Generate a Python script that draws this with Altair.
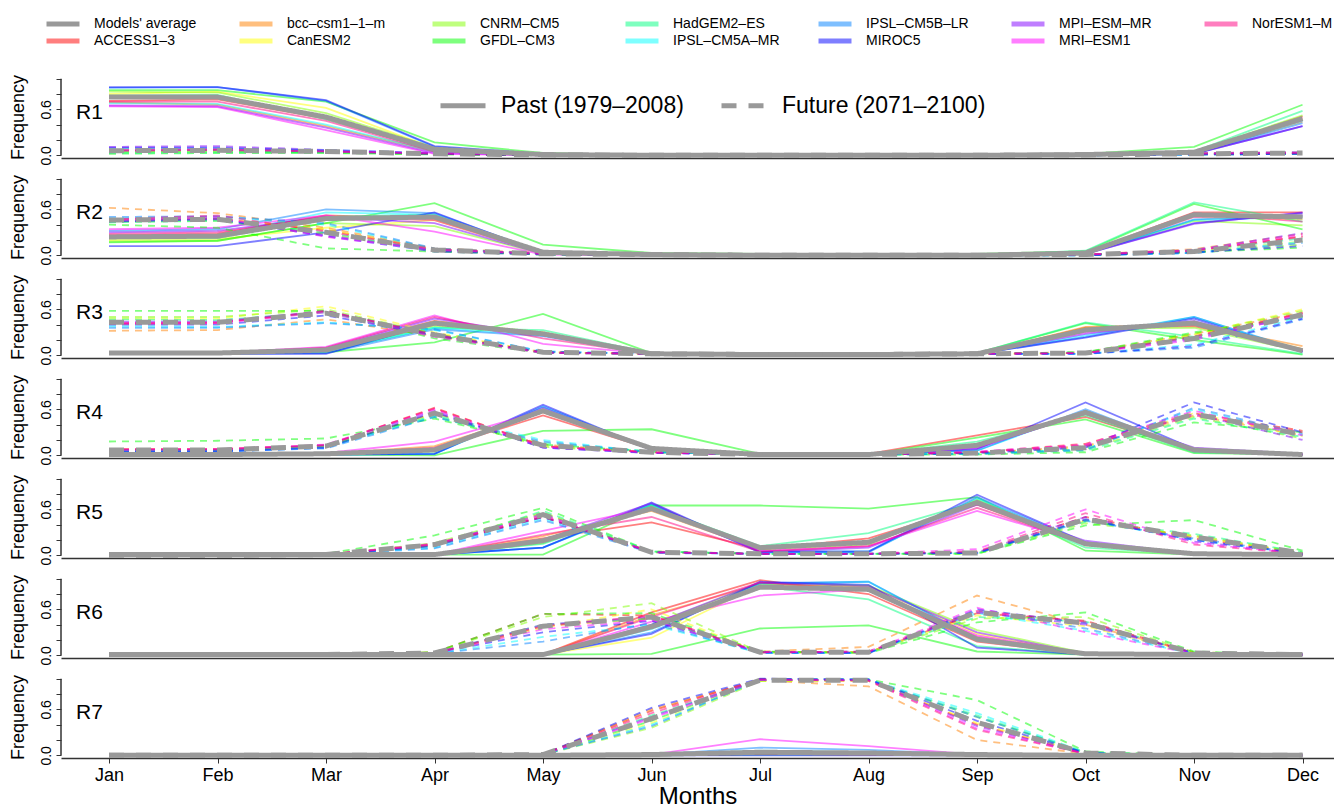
import altair as alt
import pandas as pd

MONTHS = ["Jan", "Feb", "Mar", "Apr", "May", "Jun", "Jul", "Aug", "Sep", "Oct", "Nov", "Dec"]
PERIODS = ["Past (1979\u20132008)", "Future (2071\u20132100)"]
REGIONS = ["R1", "R2", "R3", "R4", "R5", "R6", "R7"]

AVG = "Models' average"
MODELS = [AVG, "ACCESS1\u20133", "bcc\u2013csm1\u20131\u2013m", "CanESM2", "CNRM\u2013CM5", "GFDL\u2013CM3",
          "HadGEM2\u2013ES", "IPSL\u2013CM5A\u2013MR", "IPSL\u2013CM5B\u2013LR", "MIROC5", "MPI\u2013ESM\u2013MR",
          "MRI\u2013ESM1", "NorESM1\u2013M"]
COLORS = ["#999999", "#FF0000", "#FF8000", "#FFFF00", "#80FF00", "#00FF00",
          "#00FF80", "#00FFFF", "#0080FF", "#0000FF", "#8000FF", "#FF00FF", "#FF0080"]

# legend is filled column by column in the original (2 rows)
LEGEND_ORDER = [MODELS[i] for i in [0, 2, 4, 6, 8, 10, 12, 1, 3, 5, 7, 9, 11]]
LEGEND_COLORS = [COLORS[MODELS.index(m)] for m in LEGEND_ORDER]

# rows follow MODELS order: average first, then the 12 models
R1_PAST = [
    [0.76, 0.76, 0.50, 0.08, 0.01, 0, 0, 0, 0, 0.01, 0.04, 0.48],
    [0.71, 0.73, 0.48, 0.06, 0.01, 0, 0, 0, 0, 0.01, 0.04, 0.51],
    [0.69, 0.66, 0.38, 0.05, 0.01, 0, 0, 0, 0, 0.01, 0.03, 0.44],
    [0.80, 0.83, 0.62, 0.09, 0.01, 0, 0, 0, 0, 0.01, 0.04, 0.47],
    [0.83, 0.82, 0.55, 0.10, 0.01, 0, 0, 0, 0, 0.01, 0.05, 0.52],
    [0.85, 0.85, 0.70, 0.17, 0.03, 0, 0, 0, 0, 0.02, 0.11, 0.66],
    [0.78, 0.79, 0.47, 0.07, 0.01, 0, 0, 0, 0, 0.01, 0.05, 0.58],
    [0.68, 0.67, 0.40, 0.05, 0.00, 0, 0, 0, 0, 0.00, 0.02, 0.45],
    [0.88, 0.89, 0.71, 0.11, 0.01, 0, 0, 0, 0, 0.00, 0.02, 0.42],
    [0.89, 0.89, 0.72, 0.12, 0.02, 0, 0, 0, 0, 0.00, 0.02, 0.38],
    [0.65, 0.64, 0.36, 0.03, 0.00, 0, 0, 0, 0, 0.00, 0.02, 0.38],
    [0.64, 0.63, 0.33, 0.02, 0.00, 0, 0, 0, 0, 0.00, 0.03, 0.46],
    [0.70, 0.70, 0.45, 0.05, 0.01, 0, 0, 0, 0, 0.01, 0.04, 0.49],
]
R1_FUTURE = [
    [0.06, 0.065, 0.05, 0.02, 0.005, 0, 0, 0, 0, 0.005, 0.02, 0.03],
    [0.07, 0.08, 0.05, 0.02, 0.00, 0, 0, 0, 0, 0.00, 0.02, 0.03],
    [0.05, 0.06, 0.04, 0.02, 0.01, 0, 0, 0, 0, 0.01, 0.02, 0.02],
    [0.08, 0.08, 0.06, 0.02, 0.00, 0, 0, 0, 0, 0.00, 0.02, 0.03],
    [0.04, 0.05, 0.04, 0.02, 0.00, 0, 0, 0, 0, 0.00, 0.01, 0.02],
    [0.02, 0.03, 0.03, 0.01, 0.00, 0, 0, 0, 0, 0.01, 0.03, 0.04],
    [0.03, 0.04, 0.04, 0.02, 0.00, 0, 0, 0, 0, 0.00, 0.02, 0.03],
    [0.09, 0.09, 0.07, 0.03, 0.01, 0, 0, 0, 0, 0.00, 0.01, 0.02],
    [0.06, 0.07, 0.05, 0.02, 0.00, 0, 0, 0, 0, 0.00, 0.01, 0.02],
    [0.10, 0.10, 0.06, 0.02, 0.00, 0, 0, 0, 0, 0.00, 0.01, 0.02],
    [0.11, 0.12, 0.07, 0.03, 0.01, 0, 0, 0, 0, 0.00, 0.02, 0.04],
    [0.07, 0.08, 0.05, 0.03, 0.01, 0, 0, 0, 0, 0.01, 0.03, 0.04],
    [0.06, 0.07, 0.05, 0.02, 0.00, 0, 0, 0, 0, 0.00, 0.02, 0.03],
]
R2_PAST = [
    [0.24, 0.25, 0.48, 0.50, 0.04, 0.01, 0, 0, 0, 0.03, 0.53, 0.50],
    [0.26, 0.28, 0.52, 0.48, 0.03, 0.00, 0, 0, 0, 0.04, 0.56, 0.56],
    [0.24, 0.25, 0.46, 0.50, 0.03, 0.00, 0, 0, 0, 0.03, 0.52, 0.50],
    [0.20, 0.21, 0.36, 0.46, 0.03, 0.00, 0, 0, 0, 0.03, 0.50, 0.47],
    [0.18, 0.19, 0.42, 0.38, 0.02, 0.00, 0, 0, 0, 0.03, 0.45, 0.39],
    [0.17, 0.19, 0.42, 0.68, 0.14, 0.03, 0.02, 0.02, 0.02, 0.05, 0.67, 0.34],
    [0.22, 0.22, 0.50, 0.53, 0.04, 0.01, 0, 0, 0, 0.06, 0.69, 0.44],
    [0.25, 0.26, 0.56, 0.53, 0.03, 0.00, 0, 0, 0, 0.02, 0.46, 0.50],
    [0.32, 0.34, 0.60, 0.55, 0.04, 0.00, 0, 0, 0, 0.02, 0.47, 0.52],
    [0.12, 0.12, 0.30, 0.56, 0.03, 0.00, 0, 0, 0, 0.02, 0.42, 0.55],
    [0.30, 0.32, 0.50, 0.42, 0.02, 0.00, 0, 0, 0, 0.02, 0.41, 0.56],
    [0.34, 0.36, 0.52, 0.31, 0.01, 0.00, 0, 0, 0, 0.02, 0.50, 0.52],
    [0.28, 0.30, 0.50, 0.46, 0.03, 0.00, 0, 0, 0, 0.03, 0.55, 0.44],
]
R2_FUTURE = [
    [0.46, 0.47, 0.30, 0.07, 0.02, 0.01, 0, 0, 0, 0.01, 0.05, 0.20],
    [0.47, 0.48, 0.33, 0.08, 0.02, 0.00, 0, 0, 0, 0.01, 0.06, 0.25],
    [0.62, 0.55, 0.36, 0.09, 0.03, 0.01, 0, 0, 0, 0.01, 0.08, 0.28],
    [0.46, 0.48, 0.34, 0.07, 0.02, 0.00, 0, 0, 0, 0.01, 0.05, 0.18],
    [0.44, 0.45, 0.28, 0.06, 0.01, 0.00, 0, 0, 0, 0.00, 0.04, 0.14],
    [0.40, 0.36, 0.09, 0.05, 0.01, 0.00, 0, 0, 0, 0.01, 0.04, 0.10],
    [0.43, 0.45, 0.30, 0.06, 0.02, 0.00, 0, 0, 0, 0.01, 0.06, 0.22],
    [0.48, 0.50, 0.40, 0.08, 0.02, 0.00, 0, 0, 0, 0.00, 0.03, 0.18],
    [0.50, 0.51, 0.42, 0.09, 0.02, 0.00, 0, 0, 0, 0.00, 0.03, 0.16],
    [0.44, 0.47, 0.25, 0.05, 0.01, 0.00, 0, 0, 0, 0.00, 0.04, 0.12],
    [0.45, 0.48, 0.26, 0.07, 0.02, 0.00, 0, 0, 0, 0.01, 0.07, 0.29],
    [0.46, 0.50, 0.24, 0.07, 0.02, 0.00, 0, 0, 0, 0.01, 0.06, 0.27],
    [0.47, 0.52, 0.31, 0.08, 0.02, 0.00, 0, 0, 0, 0.01, 0.06, 0.24],
]
R3_PAST = [
    [0.03, 0.03, 0.07, 0.42, 0.28, 0.02, 0.01, 0.01, 0.02, 0.33, 0.42, 0.06],
    [0.03, 0.03, 0.08, 0.45, 0.27, 0.02, 0.01, 0.01, 0.02, 0.36, 0.38, 0.08],
    [0.03, 0.03, 0.06, 0.40, 0.30, 0.02, 0.01, 0.01, 0.02, 0.37, 0.40, 0.12],
    [0.03, 0.03, 0.07, 0.44, 0.30, 0.02, 0.01, 0.01, 0.02, 0.33, 0.44, 0.08],
    [0.03, 0.03, 0.06, 0.38, 0.28, 0.02, 0.01, 0.01, 0.02, 0.35, 0.36, 0.05],
    [0.03, 0.03, 0.04, 0.17, 0.54, 0.03, 0.01, 0.01, 0.03, 0.42, 0.20, 0.01],
    [0.03, 0.03, 0.05, 0.36, 0.33, 0.03, 0.01, 0.01, 0.03, 0.43, 0.24, 0.02],
    [0.03, 0.03, 0.05, 0.36, 0.26, 0.02, 0.01, 0.01, 0.02, 0.26, 0.50, 0.05],
    [0.02, 0.02, 0.03, 0.34, 0.25, 0.02, 0.01, 0.01, 0.02, 0.24, 0.50, 0.06],
    [0.02, 0.02, 0.02, 0.42, 0.27, 0.02, 0.01, 0.01, 0.02, 0.23, 0.48, 0.04],
    [0.03, 0.03, 0.09, 0.48, 0.26, 0.02, 0.01, 0.01, 0.02, 0.28, 0.45, 0.05],
    [0.03, 0.03, 0.11, 0.52, 0.15, 0.02, 0.01, 0.01, 0.02, 0.30, 0.42, 0.06],
    [0.03, 0.03, 0.10, 0.50, 0.22, 0.02, 0.01, 0.01, 0.02, 0.34, 0.40, 0.06],
]
R3_FUTURE = [
    [0.43, 0.43, 0.55, 0.27, 0.04, 0.02, 0.01, 0.01, 0.02, 0.03, 0.22, 0.53],
    [0.42, 0.43, 0.57, 0.28, 0.04, 0.02, 0.01, 0.01, 0.02, 0.03, 0.25, 0.55],
    [0.32, 0.33, 0.47, 0.25, 0.04, 0.02, 0.01, 0.01, 0.02, 0.04, 0.28, 0.56],
    [0.48, 0.48, 0.64, 0.30, 0.04, 0.02, 0.01, 0.01, 0.02, 0.03, 0.27, 0.60],
    [0.50, 0.50, 0.60, 0.28, 0.03, 0.02, 0.01, 0.01, 0.02, 0.03, 0.28, 0.58],
    [0.58, 0.58, 0.58, 0.22, 0.03, 0.02, 0.01, 0.01, 0.02, 0.04, 0.30, 0.50],
    [0.47, 0.46, 0.56, 0.25, 0.04, 0.02, 0.01, 0.01, 0.02, 0.04, 0.24, 0.52],
    [0.38, 0.37, 0.43, 0.33, 0.05, 0.02, 0.01, 0.01, 0.02, 0.02, 0.14, 0.50],
    [0.36, 0.36, 0.42, 0.34, 0.05, 0.02, 0.01, 0.01, 0.02, 0.02, 0.10, 0.47],
    [0.40, 0.40, 0.52, 0.26, 0.04, 0.02, 0.01, 0.01, 0.02, 0.02, 0.12, 0.48],
    [0.44, 0.44, 0.58, 0.27, 0.03, 0.02, 0.01, 0.01, 0.02, 0.03, 0.22, 0.52],
    [0.42, 0.42, 0.56, 0.24, 0.03, 0.02, 0.01, 0.01, 0.02, 0.03, 0.20, 0.54],
    [0.41, 0.42, 0.58, 0.26, 0.04, 0.02, 0.01, 0.01, 0.02, 0.03, 0.24, 0.55],
]
R4_PAST = [
    [0.01, 0.01, 0.02, 0.07, 0.58, 0.09, 0.01, 0.01, 0.13, 0.56, 0.07, 0.01],
    [0.01, 0.01, 0.02, 0.08, 0.52, 0.08, 0.01, 0.02, 0.26, 0.50, 0.06, 0.01],
    [0.01, 0.01, 0.02, 0.12, 0.56, 0.08, 0.01, 0.01, 0.15, 0.54, 0.07, 0.01],
    [0.01, 0.01, 0.02, 0.08, 0.60, 0.09, 0.01, 0.01, 0.12, 0.58, 0.08, 0.01],
    [0.01, 0.01, 0.02, 0.06, 0.58, 0.10, 0.01, 0.01, 0.14, 0.55, 0.07, 0.01],
    [0.00, 0.00, 0.01, 0.00, 0.32, 0.34, 0.02, 0.01, 0.23, 0.47, 0.03, 0.01],
    [0.01, 0.01, 0.02, 0.05, 0.60, 0.10, 0.01, 0.01, 0.18, 0.52, 0.04, 0.01],
    [0.01, 0.01, 0.01, 0.02, 0.63, 0.08, 0.01, 0.01, 0.06, 0.58, 0.06, 0.01],
    [0.01, 0.01, 0.01, 0.02, 0.64, 0.07, 0.01, 0.01, 0.06, 0.60, 0.06, 0.01],
    [0.01, 0.01, 0.01, 0.02, 0.66, 0.07, 0.01, 0.01, 0.08, 0.69, 0.08, 0.01],
    [0.01, 0.01, 0.02, 0.06, 0.62, 0.07, 0.01, 0.01, 0.09, 0.56, 0.10, 0.02],
    [0.01, 0.01, 0.03, 0.18, 0.58, 0.08, 0.01, 0.01, 0.10, 0.55, 0.08, 0.01],
    [0.01, 0.01, 0.02, 0.10, 0.57, 0.08, 0.01, 0.01, 0.12, 0.54, 0.07, 0.01],
]
R4_FUTURE = [
    [0.07, 0.07, 0.12, 0.55, 0.13, 0.04, 0.01, 0.01, 0.03, 0.10, 0.54, 0.27],
    [0.08, 0.08, 0.13, 0.62, 0.12, 0.04, 0.01, 0.01, 0.04, 0.15, 0.55, 0.32],
    [0.06, 0.06, 0.11, 0.55, 0.14, 0.04, 0.01, 0.01, 0.03, 0.12, 0.52, 0.26],
    [0.06, 0.07, 0.12, 0.54, 0.12, 0.04, 0.01, 0.01, 0.03, 0.10, 0.55, 0.25],
    [0.07, 0.07, 0.13, 0.52, 0.11, 0.04, 0.01, 0.01, 0.02, 0.08, 0.50, 0.22],
    [0.18, 0.19, 0.22, 0.48, 0.14, 0.05, 0.01, 0.01, 0.01, 0.04, 0.43, 0.30],
    [0.07, 0.07, 0.12, 0.50, 0.16, 0.05, 0.01, 0.01, 0.02, 0.06, 0.48, 0.24],
    [0.05, 0.05, 0.10, 0.52, 0.20, 0.04, 0.01, 0.01, 0.02, 0.08, 0.60, 0.26],
    [0.04, 0.05, 0.09, 0.50, 0.18, 0.04, 0.01, 0.01, 0.02, 0.07, 0.62, 0.28],
    [0.05, 0.05, 0.10, 0.56, 0.10, 0.03, 0.01, 0.01, 0.03, 0.10, 0.69, 0.30],
    [0.07, 0.07, 0.13, 0.58, 0.10, 0.03, 0.01, 0.01, 0.04, 0.12, 0.54, 0.20],
    [0.07, 0.08, 0.14, 0.60, 0.11, 0.04, 0.01, 0.01, 0.05, 0.14, 0.58, 0.26],
    [0.08, 0.08, 0.13, 0.61, 0.12, 0.04, 0.01, 0.01, 0.04, 0.13, 0.52, 0.30],
]
R5_PAST = [
    [0.01, 0.01, 0.01, 0.01, 0.19, 0.61, 0.10, 0.17, 0.69, 0.15, 0.02, 0.01],
    [0.01, 0.01, 0.01, 0.01, 0.22, 0.43, 0.08, 0.22, 0.66, 0.14, 0.02, 0.01],
    [0.01, 0.01, 0.01, 0.01, 0.25, 0.58, 0.08, 0.18, 0.70, 0.16, 0.02, 0.01],
    [0.01, 0.01, 0.01, 0.01, 0.18, 0.64, 0.08, 0.15, 0.72, 0.15, 0.02, 0.01],
    [0.01, 0.01, 0.01, 0.01, 0.16, 0.66, 0.08, 0.14, 0.73, 0.13, 0.02, 0.01],
    [0.01, 0.01, 0.01, 0.01, 0.01, 0.65, 0.65, 0.61, 0.76, 0.06, 0.01, 0.01],
    [0.01, 0.01, 0.01, 0.01, 0.15, 0.64, 0.12, 0.29, 0.70, 0.10, 0.02, 0.01],
    [0.01, 0.01, 0.01, 0.01, 0.10, 0.66, 0.04, 0.05, 0.74, 0.15, 0.02, 0.01],
    [0.01, 0.01, 0.01, 0.01, 0.10, 0.67, 0.04, 0.04, 0.76, 0.16, 0.02, 0.01],
    [0.01, 0.01, 0.01, 0.01, 0.10, 0.69, 0.05, 0.05, 0.79, 0.17, 0.02, 0.01],
    [0.01, 0.01, 0.01, 0.01, 0.20, 0.68, 0.04, 0.10, 0.66, 0.19, 0.02, 0.01],
    [0.01, 0.01, 0.01, 0.01, 0.32, 0.62, 0.06, 0.12, 0.58, 0.16, 0.02, 0.01],
    [0.01, 0.01, 0.01, 0.01, 0.27, 0.50, 0.05, 0.12, 0.62, 0.15, 0.02, 0.01],
]
R5_FUTURE = [
    [0.00, 0.00, 0.01, 0.14, 0.53, 0.04, 0.02, 0.02, 0.03, 0.47, 0.24, 0.03],
    [0.00, 0.00, 0.01, 0.15, 0.50, 0.04, 0.02, 0.02, 0.04, 0.50, 0.22, 0.03],
    [0.00, 0.00, 0.01, 0.13, 0.52, 0.05, 0.02, 0.02, 0.03, 0.46, 0.24, 0.03],
    [0.00, 0.00, 0.01, 0.14, 0.55, 0.04, 0.02, 0.02, 0.03, 0.45, 0.25, 0.03],
    [0.00, 0.00, 0.01, 0.16, 0.56, 0.04, 0.02, 0.02, 0.02, 0.42, 0.26, 0.04],
    [0.00, 0.00, 0.02, 0.26, 0.62, 0.05, 0.02, 0.02, 0.02, 0.39, 0.46, 0.06],
    [0.00, 0.00, 0.01, 0.12, 0.58, 0.05, 0.02, 0.02, 0.03, 0.44, 0.28, 0.04],
    [0.00, 0.00, 0.01, 0.10, 0.48, 0.04, 0.02, 0.02, 0.03, 0.46, 0.20, 0.02],
    [0.00, 0.00, 0.01, 0.09, 0.46, 0.03, 0.02, 0.02, 0.03, 0.45, 0.22, 0.02],
    [0.00, 0.00, 0.01, 0.12, 0.50, 0.04, 0.02, 0.02, 0.03, 0.47, 0.20, 0.02],
    [0.00, 0.00, 0.01, 0.14, 0.54, 0.04, 0.02, 0.02, 0.04, 0.50, 0.18, 0.02],
    [0.00, 0.00, 0.01, 0.15, 0.52, 0.04, 0.02, 0.02, 0.08, 0.60, 0.16, 0.02],
    [0.00, 0.00, 0.01, 0.14, 0.50, 0.04, 0.02, 0.02, 0.05, 0.55, 0.14, 0.02],
]
R6_PAST = [
    [0.01, 0.01, 0.01, 0.01, 0.01, 0.37, 0.89, 0.86, 0.21, 0.02, 0.01, 0.01],
    [0.01, 0.01, 0.01, 0.01, 0.01, 0.56, 0.98, 0.80, 0.18, 0.01, 0.01, 0.01],
    [0.01, 0.01, 0.01, 0.01, 0.01, 0.52, 0.93, 0.88, 0.22, 0.02, 0.01, 0.01],
    [0.01, 0.01, 0.01, 0.01, 0.01, 0.23, 0.92, 0.90, 0.28, 0.02, 0.01, 0.01],
    [0.01, 0.01, 0.01, 0.01, 0.01, 0.40, 0.94, 0.91, 0.33, 0.03, 0.01, 0.01],
    [0.01, 0.01, 0.01, 0.01, 0.01, 0.02, 0.35, 0.39, 0.05, 0.01, 0.01, 0.01],
    [0.01, 0.01, 0.01, 0.01, 0.01, 0.38, 0.90, 0.73, 0.12, 0.01, 0.01, 0.01],
    [0.01, 0.01, 0.01, 0.01, 0.01, 0.34, 0.93, 0.96, 0.20, 0.01, 0.01, 0.01],
    [0.01, 0.01, 0.01, 0.01, 0.01, 0.30, 0.94, 0.96, 0.22, 0.02, 0.01, 0.01],
    [0.01, 0.01, 0.01, 0.01, 0.01, 0.28, 0.96, 0.92, 0.10, 0.01, 0.01, 0.01],
    [0.01, 0.01, 0.01, 0.01, 0.01, 0.40, 0.95, 0.90, 0.30, 0.02, 0.01, 0.01],
    [0.01, 0.01, 0.01, 0.01, 0.01, 0.44, 0.78, 0.86, 0.26, 0.02, 0.01, 0.01],
    [0.01, 0.01, 0.01, 0.01, 0.01, 0.50, 0.95, 0.85, 0.24, 0.02, 0.01, 0.01],
]
R6_FUTURE = [
    [0.01, 0.01, 0.01, 0.03, 0.38, 0.50, 0.04, 0.04, 0.56, 0.42, 0.03, 0.01],
    [0.01, 0.01, 0.01, 0.04, 0.54, 0.52, 0.04, 0.04, 0.55, 0.45, 0.03, 0.01],
    [0.01, 0.01, 0.01, 0.03, 0.38, 0.48, 0.05, 0.11, 0.78, 0.40, 0.04, 0.01],
    [0.01, 0.01, 0.01, 0.03, 0.36, 0.60, 0.04, 0.04, 0.52, 0.38, 0.03, 0.01],
    [0.01, 0.01, 0.01, 0.04, 0.50, 0.68, 0.04, 0.04, 0.48, 0.50, 0.04, 0.01],
    [0.01, 0.01, 0.01, 0.04, 0.54, 0.55, 0.05, 0.03, 0.43, 0.56, 0.05, 0.01],
    [0.01, 0.01, 0.01, 0.03, 0.40, 0.48, 0.04, 0.05, 0.50, 0.44, 0.03, 0.01],
    [0.01, 0.01, 0.01, 0.02, 0.24, 0.40, 0.03, 0.03, 0.55, 0.32, 0.02, 0.01],
    [0.01, 0.01, 0.01, 0.02, 0.18, 0.42, 0.03, 0.03, 0.58, 0.35, 0.02, 0.01],
    [0.01, 0.01, 0.01, 0.03, 0.30, 0.45, 0.04, 0.03, 0.60, 0.42, 0.03, 0.01],
    [0.01, 0.01, 0.01, 0.03, 0.40, 0.50, 0.04, 0.04, 0.56, 0.40, 0.03, 0.01],
    [0.01, 0.01, 0.01, 0.03, 0.34, 0.46, 0.04, 0.05, 0.62, 0.30, 0.02, 0.01],
    [0.01, 0.01, 0.01, 0.03, 0.38, 0.52, 0.04, 0.05, 0.58, 0.44, 0.03, 0.01],
]
R7_PAST = [
    [0, 0, 0, 0, 0, 0.01, 0.04, 0.03, 0.01, 0, 0, 0],
    [0, 0, 0, 0, 0, 0.00, 0.02, 0.02, 0.00, 0, 0, 0],
    [0, 0, 0, 0, 0, 0.00, 0.02, 0.02, 0.00, 0, 0, 0],
    [0, 0, 0, 0, 0, 0.00, 0.02, 0.01, 0.00, 0, 0, 0],
    [0, 0, 0, 0, 0, 0.00, 0.03, 0.02, 0.00, 0, 0, 0],
    [0, 0, 0, 0, 0, 0.00, 0.01, 0.01, 0.00, 0, 0, 0],
    [0, 0, 0, 0, 0, 0.00, 0.02, 0.02, 0.00, 0, 0, 0],
    [0, 0, 0, 0, 0, 0.01, 0.06, 0.04, 0.01, 0, 0, 0],
    [0, 0, 0, 0, 0, 0.01, 0.10, 0.07, 0.01, 0, 0, 0],
    [0, 0, 0, 0, 0, 0.00, 0.00, 0.00, 0.00, 0, 0, 0],
    [0, 0, 0, 0, 0, 0.00, 0.03, 0.02, 0.00, 0, 0, 0],
    [0, 0, 0, 0, 0, 0.01, 0.21, 0.12, 0.01, 0, 0, 0],
    [0, 0, 0, 0, 0, 0.00, 0.02, 0.01, 0.00, 0, 0, 0],
]
R7_FUTURE = [
    [0, 0, 0, 0, 0.01, 0.48, 0.98, 0.98, 0.43, 0.03, 0, 0],
    [0, 0, 0, 0, 0.01, 0.58, 0.99, 0.98, 0.40, 0.02, 0, 0],
    [0, 0, 0, 0, 0.01, 0.60, 0.98, 0.90, 0.20, 0.02, 0, 0],
    [0, 0, 0, 0, 0.01, 0.42, 0.97, 0.97, 0.42, 0.03, 0, 0],
    [0, 0, 0, 0, 0.01, 0.36, 0.97, 0.98, 0.50, 0.04, 0, 0],
    [0, 0, 0, 0, 0.01, 0.45, 0.99, 0.99, 0.72, 0.05, 0, 0],
    [0, 0, 0, 0, 0.01, 0.52, 0.98, 0.98, 0.52, 0.03, 0, 0],
    [0, 0, 0, 0, 0.01, 0.40, 0.98, 0.99, 0.55, 0.04, 0, 0],
    [0, 0, 0, 0, 0.01, 0.38, 0.99, 0.99, 0.50, 0.03, 0, 0],
    [0, 0, 0, 0, 0.01, 0.62, 1.00, 0.99, 0.45, 0.03, 0, 0],
    [0, 0, 0, 0, 0.01, 0.50, 0.99, 0.98, 0.38, 0.02, 0, 0],
    [0, 0, 0, 0, 0.01, 0.48, 0.98, 0.98, 0.35, 0.02, 0, 0],
    [0, 0, 0, 0, 0.01, 0.55, 0.99, 0.97, 0.33, 0.02, 0, 0],
]

PANEL_DATA = {
    "R1": (R1_PAST, R1_FUTURE), "R2": (R2_PAST, R2_FUTURE), "R3": (R3_PAST, R3_FUTURE),
    "R4": (R4_PAST, R4_FUTURE), "R5": (R5_PAST, R5_FUTURE), "R6": (R6_PAST, R6_FUTURE),
    "R7": (R7_PAST, R7_FUTURE),
}

FONT = "Liberation Sans"
W, H = 1273, 82
X_DOMAIN = [0.5576, 12.29]
Y_DOMAIN = [-0.035, 1.035]
MONTH_EXPR = "[" + ",".join(f"'{m}'" for m in MONTHS) + "][datum.value - 1]"

# short horizontal line used as legend key (custom path keeps rows compact)
model_legend = alt.Legend(
    title=None, orient="none", legendX=-5, legendY=-59, direction="horizontal",
    columns=7, gridAlign="all", symbolType="M-4,0H4", symbolSize=68,
    symbolStrokeWidth=5, symbolOpacity={"expr": "datum.index == 0 ? 1 : 0.5"},
    labelFontSize=14, labelFont=FONT, labelOffset=24, columnPadding=28, rowPadding=-3,
    labelColor="black",
)
period_legend = alt.Legend(
    title=None, orient="none", legendX=390.5, legendY=18, direction="horizontal",
    symbolType="M-5,0H5", symbolSize=81, symbolStrokeWidth=5,
    symbolStrokeColor="#999999", labelFontSize=23, labelFont=FONT, labelLimit=400,
    labelOffset=26.5, columnPadding=27, labelColor="black",
)

Y_AXIS = alt.Axis(values=[0, 0.2, 0.4, 0.6, 0.8, 1.0],
                  labelExpr="datum.value == 0 ? '0.0' : (datum.value == 0.6 ? '0.6' : '')",
                  title="Frequency", grid=False, domain=False, labelAngle=-90, tickSize=5,
                  labelFontSize=14, labelPadding=3, titleFontSize=18, titlePadding=12)
Y_SCALE = alt.Scale(domain=Y_DOMAIN, nice=False, zero=False)


def build_frame(region):
    past, future = PANEL_DATA[region]
    rows = []
    for period, block in zip(PERIODS, (past, future)):
        for model, values in zip(MODELS, block):
            for i, v in enumerate(values):
                rows.append({"model": model, "period": period, "month": i + 1, "value": v})
    return pd.DataFrame(rows)


def make_panel(region, last):
    df = build_frame(region)
    if last:
        x_axis = alt.Axis(values=list(range(1, 13)), labelExpr=MONTH_EXPR, title="Months",
                          grid=False, tickSize=5, labelFontSize=18, labelPadding=3,
                          titleFontSize=24, titlePadding=0, labelFlush=False)
    else:
        x_axis = alt.Axis(labels=False, ticks=False, title=None, grid=False)

    base = alt.Chart(df).encode(
        x=alt.X("month:Q", scale=alt.Scale(domain=X_DOMAIN, nice=False, zero=False), axis=x_axis),
        y=alt.Y("value:Q", scale=Y_SCALE, axis=Y_AXIS),
        color=alt.Color("model:N", scale=alt.Scale(domain=LEGEND_ORDER, range=LEGEND_COLORS),
                        legend=model_legend),
    )
    is_model = alt.datum.model != AVG
    models_past = base.transform_filter(is_model & (alt.datum.period == PERIODS[0])).mark_line(
        strokeWidth=1.8, opacity=0.5)
    models_future = base.transform_filter(is_model & (alt.datum.period == PERIODS[1])).mark_line(
        strokeWidth=1.8, opacity=0.5, strokeDash=[7, 6])
    average = base.transform_filter(alt.datum.model == AVG).mark_line(strokeWidth=5).encode(
        strokeDash=alt.StrokeDash("period:N", scale=alt.Scale(domain=PERIODS, range=[[1, 0], [15, 12]]),
                                  legend=period_legend)
    )
    # left axis line drawn only between the first and last tick
    y_line = alt.Chart(pd.DataFrame({"lo": [0.0], "hi": [1.0]})).mark_rule(
        color="#333333", strokeWidth=1.5
    ).encode(x=alt.value(0), y=alt.Y("lo:Q", scale=Y_SCALE, axis=Y_AXIS), y2="hi:Q")
    label = alt.Chart(pd.DataFrame({"region": [region]})).mark_text(
        align="left", baseline="middle", fontSize=21, font=FONT, color="black"
    ).encode(text="region:N", x=alt.value(15), y=alt.value(37))

    return alt.layer(models_past, models_future, average, y_line, label).properties(width=W, height=H)


panels = [make_panel(r, r == REGIONS[-1]) for r in REGIONS]

chart = alt.vconcat(*panels, spacing=18, bounds="flush").properties(
    padding={"left": 1, "top": 9, "right": 0, "bottom": 0}
).configure_view(stroke=None).configure_axis(
    labelFont=FONT, titleFont=FONT, labelColor="black", titleColor="black",
    titleFontWeight="normal", domainColor="#333333", tickColor="#333333", domainWidth=1.5,
).configure_text(font=FONT)

chart.save("out.html", embed_options={"renderer": "svg", "actions": False})
